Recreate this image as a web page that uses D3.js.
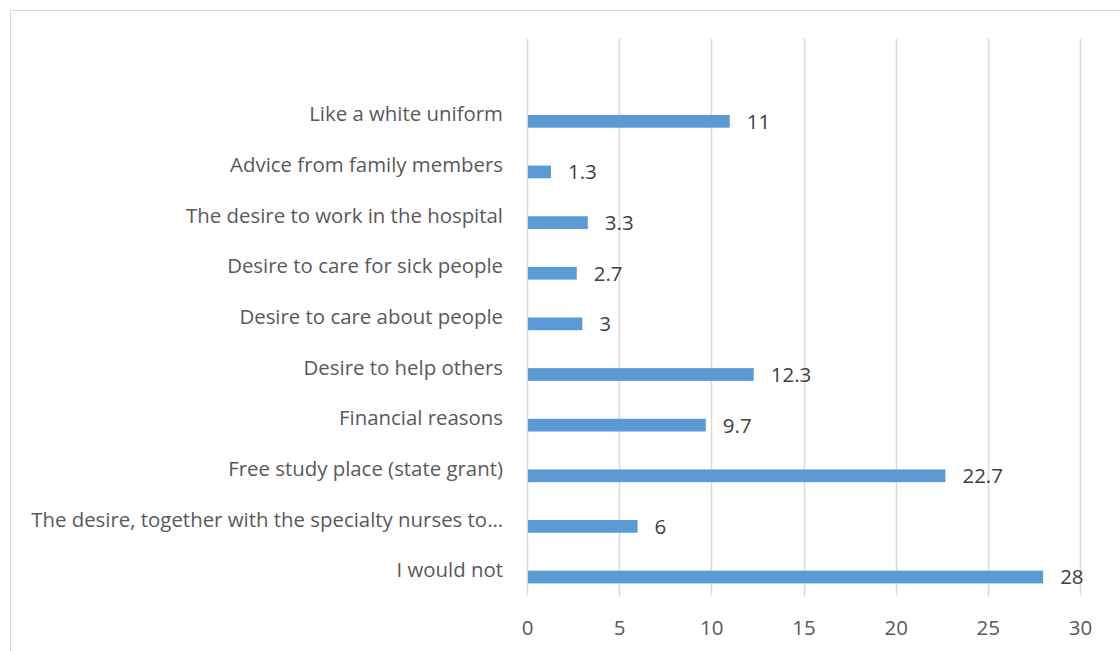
<!DOCTYPE html>
<html>
<head>
<meta charset="utf-8">
<script src="https://cdn.jsdelivr.net/npm/d3@7/dist/d3.min.js"></script>
<style>
  html, body { margin: 0; padding: 0; background: #fff; }
  svg { display: block; }
  text { font-family: "Open Sans", Lato, "Liberation Sans", sans-serif; }
</style>
</head>
<body>
<svg id="chart" width="1120" height="651"></svg>
<script>
const categories = [
  "Like a white uniform",
  "Advice from family members",
  "The desire to work in the hospital",
  "Desire to care for sick people",
  "Desire to care about people",
  "Desire to help others",
  "Financial reasons",
  "Free study place (state grant)",
  "The desire, together with the specialty nurses to…",
  "I would not"
];
const values = [11, 1.3, 3.3, 2.7, 3, 12.3, 9.7, 22.7, 6, 28];
const valueLabels = ["11", "1.3", "3.3", "2.7", "3", "12.3", "9.7", "22.7", "6", "28"];
const xTicks = [0, 5, 10, 15, 20, 25, 30];

const svg = d3.select("#chart");
const W = 1120, H = 651;

// chart frame
svg.append("rect")
  .attr("x", 10.5).attr("y", 10.5)
  .attr("width", W + 20).attr("height", H + 20)
  .attr("fill", "#fff").attr("stroke", "#d9d9d9").attr("stroke-width", 1);

const plot = { left: 527, right: 1080, top: 39, bottom: 596 };

const x = d3.scaleLinear().domain([0, 30]).range([plot.left, plot.right]);
// first band is an empty spacer category at the top
const y = d3.scaleBand().domain(["__spacer__"].concat(categories))
  .range([plot.top, plot.bottom]).paddingInner(0).paddingOuter(0);
// two series slots per category; the visible series occupies the lower slot
const ySub = d3.scaleBand().domain(["hidden", "main"])
  .range([0, y.bandwidth()]).paddingInner(0).paddingOuter(0.99);

// gridlines
svg.append("g").selectAll("line").data(xTicks).join("line")
  .attr("x1", d => Math.round(x(d)) + 0.5).attr("x2", d => Math.round(x(d)) + 0.5)
  .attr("y1", plot.top).attr("y2", plot.bottom)
  .attr("stroke", "#d9d9d9").attr("stroke-width", 1.5);

// bars
const data = categories.map((c, i) => ({ c, v: values[i], l: valueLabels[i] }));
svg.append("g").selectAll("rect").data(data).join("rect")
  .attr("x", x(0) + 1)
  .attr("y", d => y(d.c) + ySub("main"))
  .attr("width", d => x(d.v) - x(0) - 1)
  .attr("height", ySub.bandwidth())
  .attr("fill", "#5b9bd5");

// value labels
svg.append("g").selectAll("text").data(data).join("text")
  .attr("x", d => x(d.v) + 17)
  .attr("y", d => y(d.c) + ySub("main") + ySub.bandwidth() / 2)
  .attr("dy", "0.36em")
  .attr("font-size", 20.5)
  .attr("fill", "#404040")
  .text(d => d.l);

// category axis
const yAxis = svg.append("g")
  .attr("transform", `translate(${plot.left},0)`)
  .call(d3.axisLeft(y).tickSize(0).tickPadding(24)
    .tickFormat(d => d === "__spacer__" ? "" : d));
yAxis.select(".domain").remove();
yAxis.selectAll("text")
  .attr("font-size", 20.4)
  .attr("fill", "#595959")
  .attr("dy", "0.32em")
  .style("font-family", "\"Open Sans\", Lato, sans-serif");

// value axis
const xAxis = svg.append("g")
  .attr("transform", `translate(0,${plot.bottom})`)
  .call(d3.axisBottom(x).tickValues(xTicks).tickSize(0).tickPadding(24));
xAxis.select(".domain").remove();
xAxis.selectAll("text")
  .attr("font-size", 20.5)
  .attr("fill", "#595959")
  .style("font-family", "\"Open Sans\", Lato, sans-serif");
</script>
</body>
</html>
